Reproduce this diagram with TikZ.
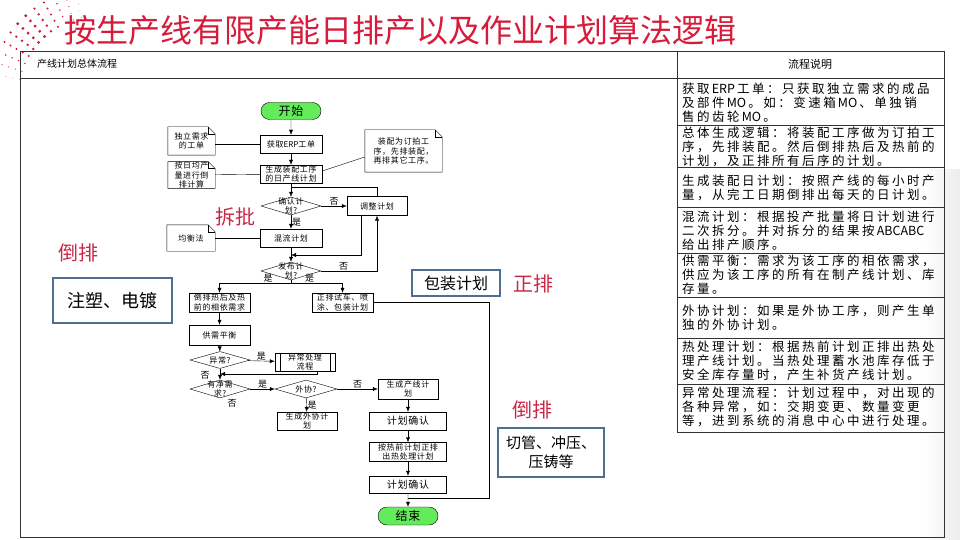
\documentclass[tikz,border=0pt]{standalone}
\usepackage{fontspec}
\setmainfont{Noto Sans CJK SC}
\newfontfamily\spaced[LetterSpace=8]{Noto Sans CJK SC}
\newfontfamily\wide[LetterSpace=20]{Noto Sans CJK SC}
\newfontfamily\plainfam{Noto Sans CJK SC}
\usetikzlibrary{shapes.geometric,shapes.misc,arrows.meta,calc}

\definecolor{titlered}{RGB}{214,28,58}
\definecolor{markred}{RGB}{200,40,70}
\definecolor{framegray}{RGB}{50,50,50}
\definecolor{termgreen}{RGB}{100,235,90}
\definecolor{steel}{RGB}{80,110,145}

\newcommand\fcfont{\spaced\fontsize{8}{9.5}\selectfont}
\newcommand\entryfont{\wide\fontsize{12.5}{14.2}\selectfont}
\newcommand\lat[1]{{\plainfam\,#1\,}}
% dog-eared outline round a document node
\newcommand\docfold[1]{%
  \draw (#1.south west) -- (#1.north west) -- ([xshift=-7pt]#1.north east)
        -- ([yshift=-7pt]#1.north east) -- (#1.south east) -- cycle;
  \draw ([xshift=-7pt]#1.north east) -- ([xshift=-7pt,yshift=-7pt]#1.north east)
        -- ([yshift=-7pt]#1.north east);}

\tikzset{
  frame/.style = {draw=framegray, line width=0.8pt},
  flow/.style = {-{Latex[length=5pt,width=4pt]}},
  proc/.style = {draw, rectangle, minimum width=62, minimum height=18,
                 inner sep=0.5pt, align=center, font=\fcfont},
  dec/.style = {draw, diamond, minimum width=60, minimum height=18, inner sep=0pt},
  dlabel/.style = {align=center, font=\fcfont, inner sep=0pt},
  term/.style = {draw, rounded rectangle, fill=termgreen, minimum width=60,
                 minimum height=17, inner sep=0pt, font=\spaced\fontsize{12}{14}\selectfont},
  docbox/.style = {minimum width=47, minimum height=27, inner sep=0pt,
                   align=center, font=\fcfont},
  lab/.style = {font=\fontsize{9}{10}\selectfont, inner sep=1pt},
  entry/.style = {anchor=west, align=left, inner sep=0pt, font=\entryfont},
  redword/.style = {text=markred, font=\fontsize{20}{22}\selectfont, inner sep=0pt},
  tag/.style = {draw=steel, line width=2.5pt, align=center, inner sep=0pt}
}

\begin{document}
\begin{tikzpicture}[x=1pt,y=-1pt]
  \useasboundingbox (0,0) rectangle (960,540);
  \shade[left color=white, right color=gray!15] (925,170) rectangle (960,540);
  % red dot arc
  \foreach \r in {80,87,...,108}{
    \foreach \a in {192,198,...,258}{
      \pgfmathsetmacro\dr{max(0.3,1.7-abs(\a-225)/25)}
      \fill[titlered] ($(98,96)+(\a:\r)$) circle[radius=\dr pt];}}
  \node[anchor=west, text=titlered, font=\fontsize{32}{34}\selectfont, inner sep=0pt]
    (title) at (64,30) {按生产线有限产能日排产以及作业计划算法逻辑};

  % table
  \draw[frame] (20,51) rectangle (944,537);
  \draw[frame] (20,78) -- (944,78);
  \draw[frame] (677,51) -- (677,432);
  \foreach \y in {125,167,207,253,297,338,384,432}
    \draw[frame] (677,\y) -- (944,\y);
  \node[anchor=west, font=\fontsize{10}{12}\selectfont, inner sep=0pt] (lefthead) at (37,64) {产线计划总体流程};
  \node[font=\fontsize{11}{12}\selectfont, inner sep=0pt] (righthead) at (810,64) {流程说明};

  \node[entry] (e1) at (682,103) {获取\lat{ERP}工单：只获取独立需求的成品\\及部件\lat{MO}。如：变速箱\lat{MO}、单独销\\售的齿轮\lat{MO}。};
  \node[entry] (e2) at (682,147) {总体生成逻辑：将装配工序做为订拍工\\序，先排装配。然后倒排热后及热前的\\计划，及正排所有后序的计划。};
  \node[entry] (e3) at (682,188) {生成装配日计划：按照产线的每小时产\\量，从完工日期倒排出每天的日计划。};
  \node[entry] (e4) at (682,231) {混流计划：根据投产批量将日计划进行\\二次拆分。并对拆分的结果按\lat{ABCABC}\\给出排产顺序。};
  \node[entry] (e5) at (682,275) {供需平衡：需求为该工序的相依需求，\\供应为该工序的所有在制产线计划、库\\存量。};
  \node[entry] (e6) at (682,318) {外协计划：如果是外协工序，则产生单\\独的外协计划。};
  \node[entry] (e7) at (682,361) {热处理计划：根据热前计划正排出热处\\理产线计划。当热处理蓄水池库存低于\\安全库存量时，产生补货产线计划。};
  \node[entry] (e8) at (682,407) {异常处理流程：计划过程中，对出现的\\各种异常，如：交期变更、数量变更\\等，进到系统的消息中心中进行处理。};

  % flow chart
  \node[term] (start) at (291,111) {开始};
  \node[proc] (erp) at (291,144) {获取{\plainfam ERP}工单};
  \node[proc] (gen) at (291,174) {生成装配工序\\的日产线计划};
  \node[dec, label={[dlabel]center:确认计\\划?}] (chk) at (291,206) {};
  \node[proc, minimum width=60, minimum height=19] (adj) at (377,206) {调整计划};
  \node[proc] (mix) at (291,238) {混流计划};
  \node[dec, label={[dlabel]center:发布计\\划?}] (pub) at (291,271) {};
  \node[proc, minimum width=61, minimum height=19] (back) at (219.5,302.5) {倒排热后及热\\前的相依需求};
  \node[proc, minimum width=61, minimum height=19] (fwd) at (342.5,302.5) {正排试车、喷\\涂、包装计划};
  \node[proc, minimum width=61, minimum height=20] (bal) at (219.5,335) {供需平衡};
  \node[dec, minimum height=17, label={[dlabel]center:异常?}] (exc) at (220,360) {};
  \node[proc, minimum width=60] (exh) at (305,362) {异常处理\\流程};
  \node[dec, label={[dlabel]center:有净需\\求?}] (net) at (220,389) {};
  \node[dec, minimum width=62, label={[dlabel]center:外协?}] (out) at (306,389) {};
  \node[proc, minimum width=60, minimum height=20] (line) at (408,389) {生成产线计\\划};
  \node[proc, minimum width=60] (outp) at (307,421) {生成外协计\\划};
  \node[proc, minimum width=77, font=\spaced\fontsize{10}{12}\selectfont] (conf1) at (408,421) {计划确认};
  \node[proc, minimum width=77, minimum height=19] (heat) at (408,452) {按热前计划正排\\出热处理计划};
  \node[proc, minimum width=77, minimum height=17, font=\spaced\fontsize{10}{12}\selectfont] (conf2) at (408,484.5) {计划确认};
  \node[term, minimum height=18] (end) at (408,516) {结束};

  \draw ([xshift=5pt]exh.north west) -- ([xshift=5pt]exh.south west);
  \draw ([xshift=-5pt]exh.north east) -- ([xshift=-5pt]exh.south east);

  \node[docbox, minimum height=28] (ind) at (191.5,141) {独立需求\\的工单};
  \node[docbox, minimum height=26] (avg) at (191.5,175) {按日均产\\量进行倒\\排计算};
  \node[docbox, minimum width=48, minimum height=26] (eq) at (191,238) {均衡法};
  \node[docbox, minimum width=77, minimum height=42] (note) at (403.5,151) {装配为订拍工\\序，先排装配，\\再排其它工序。};
  \docfold{ind}
  \docfold{avg}
  \docfold{eq}
  \docfold{note}

  \coordinate (m1) at (291,187);
  \coordinate (m2) at (291,255);
  \coordinate (m3) at (291,283);
  \coordinate (m4) at (220,374);
  \coordinate (m5) at (408,498);
  \coordinate (c1) at (489,498);

  \draw[flow] (start) -- (erp);
  \draw[flow] (erp) -- (gen);
  \draw[flow] (gen) -- (chk);
  \draw[flow] (chk) -- node[lab, above] {否} (adj);
  \draw (adj.north) |- (m1);
  \draw[flow] (chk) -- node[lab, right] {是} (mix);
  \draw[flow] (mix) -- (pub);
  \draw[flow] ([xshift=-16pt]adj.south) |- (m2);
  \draw[flow] (pub.east) -| node[lab, pos=0.2, above] {否} (adj.south);
  \draw (pub.south) -- (m3);
  \draw[flow] (m3) -| node[lab, pos=0.16, above] {是} (back.north);
  \draw[flow] (m3) -| node[lab, pos=0.18, above] {是} (fwd.north);
  \draw[flow] (back) -- (bal);
  \draw[flow] (bal) -- (exc);
  \draw[flow] (exc) -- node[lab, above] {是} (exh);
  \draw[flow] ([xshift=12pt]exh.south) |- (m4);
  \draw[flow] (exc) -- (net);
  \node[lab] (excno) at (205,375) {否};
  \draw[flow] (net) -- node[lab, above] {是} (out);
  \node[lab] (netno) at (232,403) {否};
  \draw[flow] (out) -- node[lab, above] {否} (line);
  \draw[flow] (out) -- node[lab, right] {是} (outp);
  \draw[flow] (line) -- (conf1);
  \draw[flow] (conf1) -- (heat);
  \draw[flow] (heat) -- (conf2);
  \draw[flow] (conf2) -- (end);
  \draw (fwd.east) -| (c1) -- (m5);

  \draw (ind.east |- erp) -- (erp);
  \draw (avg) -- (gen);
  \draw (eq) -- (mix);
  \draw ([yshift=3pt]gen.east) -- ([yshift=-6pt]note.west);

  % side notes
  \node[redword] (split) at (235,217) {拆批};
  \node[redword] (revL) at (78,253) {倒排};
  \node[redword] (fwdR) at (533,284) {正排};
  \node[redword] (revR) at (532,410) {倒排};
  \node[tag, minimum width=119, minimum height=45, font=\fontsize{18}{20}\selectfont] (plating) at (112.5,300.5) {注塑、电镀};
  \node[tag, minimum width=88, minimum height=26, font=\fontsize{16}{18}\selectfont] (pack) at (456,283) {包装计划};
  \node[tag, minimum width=106, minimum height=49, font=\fontsize{15}{19}\selectfont] (press) at (551,452.5) {切管、冲压、\\压铸等};
\end{tikzpicture}
\end{document}
